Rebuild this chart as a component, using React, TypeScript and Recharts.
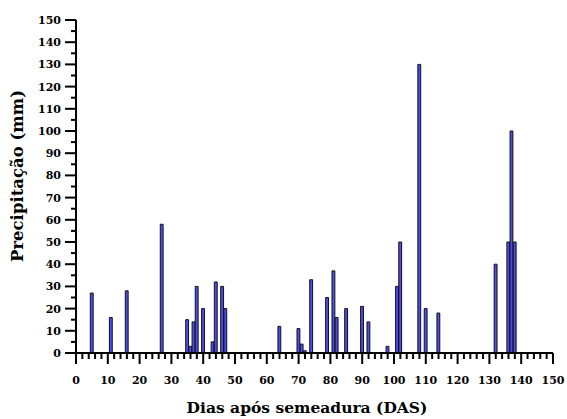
import { BarChart, Bar, XAxis, YAxis, Label } from 'recharts';

// dias após semeadura com chuva
const days = [5, 11, 16, 27, 35, 36, 37, 38, 40, 43, 44, 46, 47, 64, 70, 71, 72, 74, 79, 81, 82, 85, 90, 92, 98, 101, 102, 108, 110, 114, 132, 136, 137, 138];
// precipitação (mm)
const rain = [27, 16, 28, 58, 15, 3, 14, 30, 20, 5, 32, 30, 20, 12, 11, 4, 1, 33, 25, 37, 16, 20, 21, 14, 3, 30, 50, 130, 20, 18, 40, 50, 100, 50];

const xTicks = Array.from({ length: 76 }, (_, i) => i * 2);
const yTicks = Array.from({ length: 31 }, (_, i) => i * 5);

const data = days.map((d, i) => ({ day: d, mm: rain[i] }));

const SERIF = 'DejaVu Serif';

const XTick = ({ x, y, payload }: any) => {
  const major = payload.value % 10 === 0;
  return (
    <g>
      <line x1={x} x2={x} y1={y} y2={y + (major ? 11 : 6)} stroke="#000" strokeWidth={2} />
      {major && (
        <text x={x} y={y + 31} textAnchor="middle" fontFamily={SERIF} fontWeight="bold" fontSize={11} fill="#000">
          {payload.value}
        </text>
      )}
    </g>
  );
};

const YTick = ({ x, y, payload }: any) => {
  const major = payload.value % 10 === 0;
  return (
    <g>
      <line x1={x - (major ? 11 : 5)} x2={x} y1={y} y2={y} stroke="#000" strokeWidth={2} />
      {major && (
        <text x={x - 15} y={y + 4} textAnchor="end" fontFamily={SERIF} fontWeight="bold" fontSize={11} fill="#000">
          {payload.value}
        </text>
      )}
    </g>
  );
};

export default function App() {
  return (
    <div style={{ position: 'absolute', left: 0, top: 0, background: '#fff' }}>
      <BarChart width={567} height={419} data={data} margin={{ top: 20, right: 14, left: 0, bottom: 0 }}>
        <XAxis
          dataKey="day"
          type="number"
          domain={[0, 150]}
          ticks={xTicks}
          interval={0}
          tick={<XTick />}
          tickLine={false}
          tickSize={0}
          tickMargin={0}
          height={66}
          axisLine={{ stroke: '#000', strokeWidth: 2 }}
        >
          <Label
            content={() => (
              <text x={307} y={413} textAnchor="middle" fontFamily={SERIF} fontWeight="bold" fontSize={15.5} fill="#000">
                Dias após semeadura (DAS)
              </text>
            )}
          />
        </XAxis>
        <YAxis
          type="number"
          domain={[0, 150]}
          ticks={yTicks}
          interval={0}
          tick={<YTick />}
          tickLine={false}
          tickSize={0}
          tickMargin={0}
          width={76}
          axisLine={{ stroke: '#000', strokeWidth: 2 }}
        >
          <Label
            content={() => (
              <text
                x={23}
                y={176}
                transform="rotate(-90 23 176)"
                textAnchor="middle"
                fontFamily={SERIF}
                fontWeight="bold"
                fontSize={16.5}
                fill="#000"
              >
                Precipitação (mm)
              </text>
            )}
          />
        </YAxis>
        <Bar dataKey="mm" barSize={4} fill="#4c4cf2" stroke="#111" strokeWidth={1} isAnimationActive={false} />
      </BarChart>
    </div>
  );
}
